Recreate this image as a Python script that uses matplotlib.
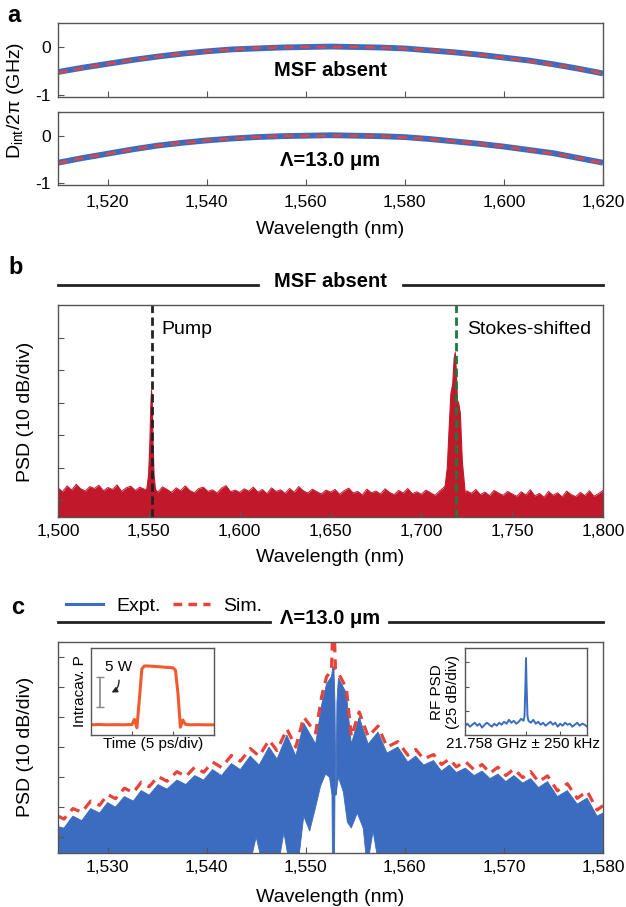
import numpy as np
import matplotlib
matplotlib.use('Agg')
import matplotlib.pyplot as plt
from matplotlib.lines import Line2D
from matplotlib.ticker import FuncFormatter

plt.rcParams['font.family'] = ['Liberation Sans', 'DejaVu Sans']
plt.rcParams['mathtext.fontset'] = 'custom'
plt.rcParams['mathtext.rm'] = 'Liberation Sans'
plt.rcParams['axes.linewidth'] = 1.0
plt.rcParams['axes.edgecolor'] = '#555555'

# ---- panel a: integrated dispersion ----
a_wl = [1510, 1515, 1520, 1525, 1530, 1535, 1540, 1545, 1550, 1555, 1560, 1565,
        1570, 1575, 1580, 1585, 1590, 1595, 1600, 1605, 1610, 1615, 1620]
absent_expt = [-0.52, -0.43, -0.35, -0.27, -0.20, -0.14, -0.09, -0.05, -0.03, -0.01, 0.0, 0.01,
               0.0, -0.01, -0.03, -0.07, -0.11, -0.16, -0.22, -0.28, -0.36, -0.45, -0.55]
absent_sim = [-0.53, -0.44, -0.35, -0.27, -0.20, -0.14, -0.09, -0.05, -0.02, -0.01, 0.0, 0.0,
              0.0, -0.01, -0.03, -0.06, -0.11, -0.16, -0.22, -0.29, -0.37, -0.45, -0.55]
msf_expt = [-0.57, -0.47, -0.38, -0.29, -0.21, -0.15, -0.10, -0.06, -0.03, -0.01, 0.0, 0.01,
            0.0, -0.01, -0.03, -0.07, -0.12, -0.17, -0.23, -0.30, -0.37, -0.47, -0.57]
msf_sim = [-0.58, -0.47, -0.38, -0.29, -0.21, -0.15, -0.10, -0.06, -0.03, -0.01, 0.0, 0.0,
           0.0, -0.01, -0.04, -0.07, -0.12, -0.17, -0.23, -0.30, -0.38, -0.47, -0.58]

# ---- panel b: MSF absent spectrum (dB, 10 dB/div) ----
b_wl = np.arange(1500, 1800.1, 2.5)
b_floor = [3.8, 2.6, 4.4, 3.1, 4.9, 3.5, 2.8, 4.2, 3.6, 4.6, 2.9, 3.9, 3.3, 4.7, 2.7, 3.8, 4.3, 3.0, 4.0, 3.4,
           3.2, 3.9, 2.5, 4.1, 3.3, 2.4, 3.8, 2.9, 4.4, 3.0, 2.3, 3.6, 4.0, 2.7, 3.2, 2.2, 3.7, 4.5, 2.6, 3.1,
           2.4, 3.5, 2.8, 4.0, 2.5, 3.3, 2.0, 3.8, 2.7, 3.2, 2.1, 3.6, 2.4, 4.2, 2.9, 2.2, 3.4, 2.6, 1.9, 3.1,
           2.5, 3.3, 1.8, 2.9, 3.7, 2.2, 2.7, 1.6, 3.4, 2.3, 2.8, 1.9, 3.5, 2.4, 1.7, 3.0, 2.2, 3.6, 2.0, 2.6,
           1.8, 3.1, 2.3, 1.5, 2.8, 4.0, 5.2, 3.0, 2.4, 1.6, 2.9, 2.1, 3.3, 1.7, 2.5, 1.4, 3.0, 2.2, 1.5, 2.7,
           1.9, 1.2, 2.6, 1.6, 3.2, 1.3, 2.1, 0.9, 2.7, 1.5, 2.3, 1.0, 2.8, 1.7, 1.1, 2.4, 1.4, 2.9, 1.2, 2.0, 3.0]
pump_wl = [1548.6, 1549.6, 1550.3, 1550.8, 1551.2, 1551.6, 1552.0, 1552.6, 1553.4]
pump_db = [3.5, 8, 18, 29, 34, 31, 19, 8, 3.5]
stokes_wl = [1712.5, 1714.0, 1715.0, 1716.0, 1717.0, 1717.8, 1718.4, 1719.0, 1719.6, 1720.3, 1721.2, 1722.3, 1723.8]
stokes_db = [3, 10, 22, 33, 36, 44, 45.7, 40, 31, 30, 27, 12, 3]
pump_line = 1551.5
stokes_line = 1719.0

# ---- panel c: Lambda = 13.0 um comb ----
sim_wl = [1525.0, 1525.6, 1526.5, 1527.4, 1528.3, 1529.2, 1530.0, 1530.8, 1531.7, 1532.6, 1533.4, 1534.2,
          1535.1, 1536.0, 1537.0, 1537.9, 1538.8, 1539.7, 1540.6, 1541.5, 1542.5, 1543.4, 1544.4, 1545.3,
          1546.3, 1547.1, 1548.1, 1549.0, 1549.8, 1551.0, 1551.6, 1552.1, 1552.6, 1552.75, 1552.85, 1553.0,
          1553.3, 1554.1, 1554.6, 1555.4, 1556.3, 1557.3, 1558.2, 1559.3, 1560.3, 1561.1, 1561.9, 1562.9,
          1563.7, 1564.5, 1565.2, 1566.1, 1567.0, 1567.8, 1568.6, 1569.4, 1570.2, 1571.0, 1571.9, 1572.7,
          1573.5, 1574.4, 1575.4, 1576.4, 1577.4, 1578.4, 1579.4, 1580.0]
sim_db = [7.0, 6.0, 9.5, 8.3, 12.0, 10.6, 14.2, 12.8, 16.3, 14.8, 18.3, 16.8,
          20.2, 18.6, 21.8, 20.2, 23.3, 21.6, 25.0, 23.2, 27.2, 25.3, 29.5, 27.0,
          32.3, 28.8, 36.0, 30.0, 40.0, 34.7, 46.7, 53.4, 55.5, 72.0, 72.0, 56.0,
          54.6, 49.6, 33.5, 41.7, 33.5, 37.0, 30.0, 31.8, 27.3, 29.2, 26.0, 27.5,
          24.2, 26.0, 23.4, 25.2, 22.4, 24.2, 21.3, 23.3, 20.5, 22.7, 19.8, 21.8,
          18.4, 20.4, 15.4, 17.8, 12.9, 15.3, 9.0, 10.5]
expt_wl = [1525.0, 1525.6, 1526.5, 1527.4, 1528.3, 1529.2, 1530.0, 1530.8, 1531.7, 1532.6, 1533.4, 1534.2,
           1535.1, 1536.0, 1537.0, 1537.9, 1538.8, 1539.7, 1540.6, 1541.5, 1542.5, 1543.4, 1544.4, 1545.3,
           1546.3, 1547.1, 1548.1, 1549.0, 1549.8, 1551.0, 1551.6, 1552.1, 1552.6, 1552.75, 1552.85, 1552.95,
           1553.05, 1553.15, 1553.3, 1554.1, 1554.6, 1555.4, 1556.3, 1557.3, 1558.2, 1559.3, 1560.3, 1561.1,
           1561.9, 1562.9, 1563.7, 1564.5, 1565.2, 1566.1, 1567.0, 1567.8, 1568.6, 1569.4, 1570.2, 1571.0,
           1571.9, 1572.7, 1573.5, 1574.4, 1575.4, 1576.4, 1577.4, 1578.4, 1579.4, 1580.0]
expt_top = [3.5, 3.0, 7.0, 5.5, 9.5, 8.0, 11.5, 10.0, 13.5, 12.0, 15.5, 14.0,
            17.5, 16.0, 19.0, 17.5, 20.5, 19.0, 22.5, 20.5, 24.5, 22.5, 27.0, 24.0,
            30.0, 26.0, 34.0, 27.0, 38.0, 31.0, 44.0, 51.0, 53.5, 57.0, 56.0, 45.0,
            14.0, 45.0, 53.0, 48.0, 31.0, 40.0, 31.0, 35.0, 28.0, 30.0, 25.0, 27.0,
            24.0, 25.5, 22.0, 24.0, 21.5, 23.0, 20.5, 22.0, 19.5, 21.0, 18.5, 20.5,
            18.0, 19.5, 16.5, 18.5, 13.5, 15.5, 11.0, 13.0, 7.0, 8.0]
low_wl = [1525.0, 1544.3, 1545.0, 1545.7, 1547.2, 1547.8, 1548.4, 1549.2, 1549.8, 1550.4, 1551.0,
          1551.5, 1552.0, 1552.4, 1552.65, 1552.7, 1552.9, 1552.95, 1553.05, 1553.3, 1553.8, 1554.2,
          1554.6, 1555.2, 1555.8, 1556.2, 1556.8, 1557.4, 1580.0]
low_db = [-10, -10, 0, -10, -10, 1.5, -10, -10, 7, 2, 10,
          17, 21, 20, 14, -10, -10, 14, 14, 20, 15, 5,
          3, 8, 3, -10, 2, -10, -10]

# insets
pulse_t = [0, 1, 2, 3, 4, 5.0, 5.3, 5.6, 5.9, 6.2, 6.5, 7, 8, 9, 10.0, 10.3, 10.6, 10.9, 11.2, 11.5,
           12, 13, 14, 15]
pulse_p = [1.7, 1.75, 1.7, 1.72, 1.7, 1.75, 2.6, 1.2, 6.0, 11.0, 11.5, 11.5, 11.4, 11.3, 11.2, 10.8,
           7.0, 1.3, 2.5, 1.8, 1.7, 1.72, 1.7, 1.7]
bar_t, bar_lo, bar_hi = 1.1, 4.7, 9.7
rf_khz = list(range(-250, 0, 10)) + [-6, -2, 0, 2, 6] + list(range(10, 251, 10))
rf_db = [-65, -63, -66, -64, -62, -65, -63, -67, -64, -62, -64, -66, -63, -65, -62, -64, -61, -63,
         -59, -62, -60, -63, -61, -58, -60,
         -55, -20, 4, -20, -55,
         -60, -62, -59, -63, -61, -64, -62, -65, -63, -61, -64, -62, -66, -63, -65, -62, -64, -63,
         -66, -64, -62, -65, -63, -64, -66]

BLUE = '#3b6cc0'
RED = '#e8433a'
CRIMSON = '#c2182b'
ORANGE = '#f25a2e'
GREEN = '#1b7a3c'
FRAME = '#555555'

W, H = 626, 907
R = 603  # right edge of the main axes, px
fig = plt.figure(figsize=(W / 100, H / 100), dpi=100)


def box(x0, y0, x1, y1):
    return [x0 / W, 1 - y1 / H, (x1 - x0) / W, (y1 - y0) / H]


def ft(x, y, s, **kw):
    fig.text(x / W, 1 - y / H, s, **kw)


def hline(x0, x1, y):
    fig.add_artist(Line2D([x0 / W, x1 / W], [1 - y / H] * 2, color='#222222', lw=2))


comma = FuncFormatter(lambda v, p: f'{v:,.0f}')

# panel a
for rect, expt, sim, lab, ly in [((58, 23, R, 97), absent_expt, absent_sim, 'MSF absent', 0.36),
                                 ((58, 112, R, 185), msf_expt, msf_sim, 'Λ=13.0 μm', 0.34)]:
    ax = fig.add_axes(box(*rect))
    ax.plot(a_wl, expt, color=BLUE, lw=4.2, solid_capstyle='butt')
    ax.plot(a_wl, sim, color=RED, lw=1.8, dashes=(4, 2.5))
    ax.set_xlim(1510, 1620)
    ax.set_ylim(-1.04, 0.5)
    ax.set_yticks([0, -1])
    ax.set_yticklabels(['0', '-1'])
    ax.set_xticks(range(1520, 1621, 20))
    ax.xaxis.set_major_formatter(comma)
    ax.tick_params(direction='in', length=4, width=0.8, color=FRAME, labelsize=12.5, pad=5)
    ax.tick_params(axis='x', pad=7)
    ax.text(0.5, ly, lab, transform=ax.transAxes, ha='center', va='center',
            fontsize=14.5, fontweight='bold')
    if lab == 'MSF absent':
        ax.tick_params(axis='x', labelbottom=False)

ft(16, 100, r'D$_\mathregular{int}$/2π (GHz)', rotation=90, ha='center', va='center', fontsize=14)
ft(330, 230, 'Wavelength (nm)', ha='center', va='center', fontsize=14)
ft(14, 15, 'a', ha='center', va='center', fontsize=17, fontweight='bold')

# panel b
ax = fig.add_axes(box(58, 305, R, 517))
ax.fill_between(b_wl, -10, b_floor, color=CRIMSON, lw=0)
ax.plot(b_wl, b_floor, color=CRIMSON, lw=0.7)
ax.fill_between(pump_wl, -10, pump_db, color=CRIMSON, lw=0.8, edgecolor=CRIMSON)
ax.fill_between(stokes_wl, -10, stokes_db, color=CRIMSON, lw=0.8, edgecolor=CRIMSON)
ax.axvline(pump_line, color='#222222', lw=2, dashes=(3, 1.6))
ax.axvline(stokes_line, color=GREEN, lw=2, dashes=(3, 1.6))
ax.set_xlim(1500, 1800)
ax.set_ylim(-5.2, 60.2)
ax.set_xticks(range(1500, 1801, 50))
ax.set_yticks(range(0, 51, 10))
ax.set_yticklabels([])
ax.xaxis.set_major_formatter(comma)
ax.tick_params(direction='in', length=4, width=0.8, color=FRAME, labelsize=12.5, pad=5)
ft(161, 330, 'Pump', ha='left', va='center', fontsize=14)
ft(467, 330, 'Stokes-shifted', ha='left', va='center', fontsize=14)
ft(330, 282, 'MSF absent', ha='center', va='center', fontsize=14.5, fontweight='bold')
hline(58, 258, 285)
hline(403, R, 285)
ft(26, 412, 'PSD (10 dB/div)', rotation=90, ha='center', va='center', fontsize=14)
ft(330, 558, 'Wavelength (nm)', ha='center', va='center', fontsize=14)
ft(16, 268, 'b', ha='center', va='center', fontsize=17, fontweight='bold')

# panel c
ax = fig.add_axes(box(58, 642, R, 853))
ax.fill(np.r_[expt_wl, low_wl[::-1]], np.r_[expt_top, low_db[::-1]], color=BLUE, lw=0.6,
        edgecolor=BLUE)
ax.plot(sim_wl, sim_db, color=RED, lw=2.3, dashes=(3.2, 2.2))
ax.set_xlim(1525, 1580)
ax.set_ylim(-5.3, 65)
ax.set_xticks(range(1530, 1581, 10))
ax.set_yticks(range(0, 61, 10))
ax.set_yticklabels([])
ax.xaxis.set_major_formatter(comma)
ax.tick_params(direction='in', length=4, width=0.8, color=FRAME, labelsize=12.5, pad=5)
ft(330, 618, 'Λ=13.0 μm', ha='center', va='center', fontsize=14.5, fontweight='bold')
hline(58, 270, 622)
hline(389, R, 622)
ft(26, 747, 'PSD (10 dB/div)', rotation=90, ha='center', va='center', fontsize=14)
ft(330, 897, 'Wavelength (nm)', ha='center', va='center', fontsize=14)
ft(18, 607, 'c', ha='center', va='center', fontsize=17, fontweight='bold')

handles = [Line2D([], [], color=BLUE, lw=2.2),
           Line2D([], [], color=RED, lw=2.5, dashes=(2.5, 1.8))]
fig.legend(handles, ['Expt.', 'Sim.'], loc='center left', bbox_to_anchor=(66 / W, 1 - 606 / H),
           ncol=2, frameon=False, fontsize=14, handlelength=1.9, handletextpad=0.7,
           columnspacing=0.6, borderpad=0, borderaxespad=0)

# left inset: intracavity power
ai = fig.add_axes(box(91, 648, 214, 735))
ai.plot(pulse_t, pulse_p, color=ORANGE, lw=2.2)
ai.errorbar([bar_t], [(bar_lo + bar_hi) / 2], yerr=[(bar_hi - bar_lo) / 2], color='#888888',
            lw=1.2, capsize=3)
ai.text(1.7, 11.3, '5 W', fontsize=11, va='center')
ai.annotate('', xy=(2.2, 6.9), xytext=(3.4, 9.6),
            arrowprops=dict(arrowstyle='-|>', color='#222222', lw=1,
                            connectionstyle='arc3,rad=-0.4', mutation_scale=8))
ai.set_xlim(0, 15)
ai.set_ylim(0, 14.5)
ai.set_xticks([5, 10])
ai.set_xticklabels([])
ai.set_yticks([])
ai.tick_params(direction='in', length=3, color=FRAME)
ft(80, 691, 'Intracav. P', rotation=90, ha='center', va='center', fontsize=11)
ft(153, 744, 'Time (5 ps/div)', ha='center', va='center', fontsize=11)

# right inset: RF beat note
ri = fig.add_axes(box(465, 648, 587, 735))
ri.plot(rf_khz, rf_db, color=BLUE, lw=1.4)
ri.set_xlim(-250, 250)
ri.set_ylim(-74.5, 14.3)
ri.set_xticks([0, 140])
ri.set_xticklabels([])
ri.set_yticks([-50, -25, 0])
ri.set_yticklabels([])
ri.tick_params(direction='in', length=3, color=FRAME)
ft(445, 692, 'RF PSD\n(25 dB/div)', rotation=90, ha='center', va='center', fontsize=11,
   linespacing=1.15)
ft(523, 744, '21.758 GHz ± 250 kHz', ha='center', va='center', fontsize=11)

fig.savefig('out.png', dpi=100)
